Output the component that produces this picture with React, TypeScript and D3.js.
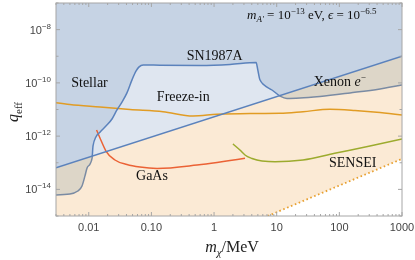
import React from 'react';
import * as d3 from 'd3';

type Pt = [number, number];

// stellar / SN1987A / Xenon e- boundary (m in MeV, q_eff)
const stellarBound: Pt[] = [
  [0.003, 6.2e-15], [0.005, 6.7e-15], [0.0067, 8.7e-15], [0.0078, 1.34e-14],
  [0.0087, 3.2e-14], [0.0094, 6.4e-14], [0.0105, 9.0e-14], [0.0113, 1.5e-13],
  [0.0117, 4.3e-13], [0.013, 9.3e-13], [0.0151, 1.4e-12], [0.0188, 2.4e-12],
  [0.0235, 4.4e-12], [0.0282, 9.6e-12], [0.0339, 1.9e-11], [0.0407, 4.2e-11],
  [0.049, 1.3e-10], [0.057, 2.8e-10], [0.063, 3.9e-10], [0.074, 4.7e-10],
  [0.137, 4.6e-10], [0.6, 4.5e-10], [1.8, 4.9e-10], [4.7, 5.8e-10],
  [5.0, 3.0e-10], [5.4, 1.3e-10], [6.3, 8.3e-11], [8.4, 5.4e-11],
  [11.3, 3.2e-11], [14.6, 2.6e-11], [23.6, 2.7e-11], [49, 3.1e-11],
  [148, 4.2e-11], [446, 5.9e-11], [1000, 8.3e-11],
];

// freeze-in / stellar cooling divider
const divider: Pt[] = [[0.003, 6.5e-14], [1000, 1.0e-9]];

// orange curve
const orangeCurve: Pt[] = [
  [0.003, 1.8e-11], [0.005, 1.54e-11], [0.0151, 1.24e-11], [0.0455, 1.0e-11],
  [0.153, 8.3e-12], [0.461, 5.7e-12], [1.11, 6.6e-12], [3.75, 7.1e-12],
  [11.3, 7.2e-12], [26.3, 8.3e-12], [70.8, 1.02e-11], [177, 9.2e-12],
  [446, 7.7e-12], [1000, 6.2e-12],
];

const gaAs: Pt[] = [
  [0.0133, 1.7e-12], [0.0151, 8.5e-13], [0.0188, 2.76e-13], [0.0262, 1.27e-13],
  [0.0407, 8.6e-14], [0.0658, 6.9e-14], [0.123, 6.1e-14], [0.535, 8.2e-14],
  [3.12, 1.47e-13],
];

const sensei: Pt[] = [
  [2.0, 5.1e-13], [2.59, 3.0e-13], [3.12, 1.95e-13], [4.03, 1.44e-13],
  [5.82, 1.16e-13], [9.4, 1.09e-13], [26.3, 1.27e-13], [84.3, 2.26e-13],
  [308, 4.26e-13], [1000, 7.8e-13],
];

const floorLine: Pt[] = [[7.2, 1e-15], [1000, 1.4e-13]];

const xTicks = [0.01, 0.1, 1, 10, 100, 1000];
const xTickLabels = ['0.01', '0.10', '1', '10', '100', '1000'];
const yExps = [-15, -14, -13, -12, -11, -10, -9, -8, -7];
const yLabelExps = [-14, -12, -10, -8];

const W = 415;
const H = 260;
const L = 56, R = 402, T = 3, B = 216;

const App: React.FC = () => {
  const x = d3.scaleLog().domain([0.003, 1000]).range([L, R]);
  const y = d3.scaleLog().domain([1e-15, 1e-7]).range([B, T]);

  const line = d3.line<Pt>().x(d => x(d[0])).y(d => y(d[1]));
  const smooth = d3.line<Pt>().x(d => x(d[0])).y(d => y(d[1])).curve(d3.curveMonotoneX);
  const areaAbove = d3.area<Pt>().x(d => x(d[0])).y0(T).y1(d => y(d[1]));
  const areaAboveSmooth = d3.area<Pt>().x(d => x(d[0])).y0(T).y1(d => y(d[1])).curve(d3.curveMonotoneX);
  const areaBelow = d3.area<Pt>().x(d => x(d[0])).y0(B).y1(d => y(d[1]));

  const minor: number[] = [];
  for (let e = -3; e < 3; e++) {
    for (let k = 2; k <= 9; k++) {
      const v = k * Math.pow(10, e);
      if (v >= 0.003 && v <= 1000) minor.push(v);
    }
  }

  const frame = '#a6a6a6';
  const serif = '"Liberation Serif", "Times New Roman", serif';
  const sans = '"Liberation Sans", Arial, sans-serif';

  return (
    <svg width={W} height={H} style={{ position: 'fixed', left: 0, top: 0 }}>
      <defs>
        <clipPath id="plot"><rect x={L} y={T} width={R - L} height={B - T} /></clipPath>
        <clipPath id="aboveDiv"><path d={areaAbove(divider) ?? ''} /></clipPath>
        <clipPath id="belowDiv"><path d={areaBelow(divider) ?? ''} /></clipPath>
      </defs>

      <g clipPath="url(#plot)">
        <rect x={L} y={T} width={R - L} height={B - T} fill="#fbead5" />
        <path d={areaBelow(floorLine) ?? ''} fill="#ffffff" />
        <path d={areaAboveSmooth(stellarBound) ?? ''} fill="#ddd6c8" />
        <g clipPath="url(#aboveDiv)">
          <rect x={L} y={T} width={R - L} height={B - T} fill="#dfe6f0" />
          <path d={areaAboveSmooth(stellarBound) ?? ''} fill="#c6d3e4" />
        </g>

        <path d={smooth(orangeCurve) ?? ''} fill="none" stroke="#e19c24" strokeWidth={1.5} />
        <path d={smooth(gaAs) ?? ''} fill="none" stroke="#eb6235" strokeWidth={1.5} />
        <path d={smooth(sensei) ?? ''} fill="none" stroke="#9cab2e" strokeWidth={1.5} />
        <path d={line(floorLine) ?? ''} fill="none" stroke="#e8a030" strokeWidth={1.8} strokeDasharray="1.6 2.6" />

        <g clipPath="url(#aboveDiv)">
          <path d={smooth(stellarBound) ?? ''} fill="none" stroke="#5b82bc" strokeWidth={1.5} />
        </g>
        <g clipPath="url(#belowDiv)">
          <path d={smooth(stellarBound) ?? ''} fill="none" stroke="#7a8ba3" strokeWidth={1.5} />
        </g>
        <path d={line(divider) ?? ''} fill="none" stroke="#5b82bc" strokeWidth={1.5} />
      </g>

      {/* frame */}
      <rect x={L} y={T} width={R - L} height={B - T} fill="none" stroke={frame} strokeWidth={1} />
      {xTicks.map(v => (
        <g key={'xt' + v} stroke={frame}>
          <line x1={x(v)} x2={x(v)} y1={B} y2={B - 4} />
          <line x1={x(v)} x2={x(v)} y1={T} y2={T + 4} />
        </g>
      ))}
      {minor.map(v => (
        <g key={'xm' + v} stroke={frame}>
          <line x1={x(v)} x2={x(v)} y1={B} y2={B - 2} />
          <line x1={x(v)} x2={x(v)} y1={T} y2={T + 2} />
        </g>
      ))}
      {yExps.map(e => {
        const len = e % 2 === 0 ? 4 : 2.5;
        const py = y(Math.pow(10, e));
        return (
          <g key={'yt' + e} stroke={frame}>
            <line x1={L} x2={L + len} y1={py} y2={py} />
            <line x1={R} x2={R - len} y1={py} y2={py} />
          </g>
        );
      })}

      {xTicks.map((v, i) => (
        <text key={'xl' + v} x={x(v)} y={B + 15} textAnchor="middle" fontFamily={sans} fontSize={11} fill="#444">
          {xTickLabels[i]}
        </text>
      ))}
      {yLabelExps.map(e => (
        <text key={'yl' + e} x={51} y={y(Math.pow(10, e)) + 4} textAnchor="end" fontFamily={sans} fontSize={11} fill="#444">
          10<tspan fontSize={8} dy={-5}>{'\u2212' + Math.abs(e)}</tspan>
        </text>
      ))}

      {/* axis labels */}
      <text x={232} y={252} textAnchor="middle" fontFamily={serif} fontSize={16} fill="#222">
        <tspan fontStyle="italic">m</tspan>
        <tspan fontStyle="italic" fontSize={11} dy={4}>χ</tspan>
        <tspan dy={-4}>/MeV</tspan>
      </text>
      <text transform="translate(18,112) rotate(-90)" textAnchor="middle" fontFamily={serif} fontSize={16} fill="#222">
        <tspan fontStyle="italic">q</tspan>
        <tspan fontSize={11} dy={4}>eff</tspan>
      </text>

      {/* region labels */}
      <g fontFamily={serif} fontSize={14} fill="#111" textAnchor="middle">
        <text x={89.5} y={86.5}>Stellar</text>
        <text x={214.7} y={60}>SN1987A</text>
        <text x={183.3} y={100.5}>Freeze-in</text>
        <text x={152} y={180}>GaAs</text>
        <text x={352.7} y={166.5}>SENSEI</text>
        <text x={339.7} y={86}>
          Xenon <tspan fontStyle="italic">e</tspan><tspan fontSize={9} dy={-6}>−</tspan>
        </text>
      </g>

      <text x={247} y={19} fontFamily={serif} fontSize={13} fill="#111">
        <tspan fontStyle="italic">m</tspan>
        <tspan fontStyle="italic" fontSize={9} dy={3}>A′</tspan>
        <tspan dy={-3}> = 10</tspan>
        <tspan fontSize={9} dy={-5}>−13</tspan>
        <tspan dy={5}> eV, </tspan>
        <tspan fontStyle="italic">ϵ</tspan>
        <tspan> = 10</tspan>
        <tspan fontSize={9} dy={-5}>−6.5</tspan>
      </text>
    </svg>
  );
};

export default App;
